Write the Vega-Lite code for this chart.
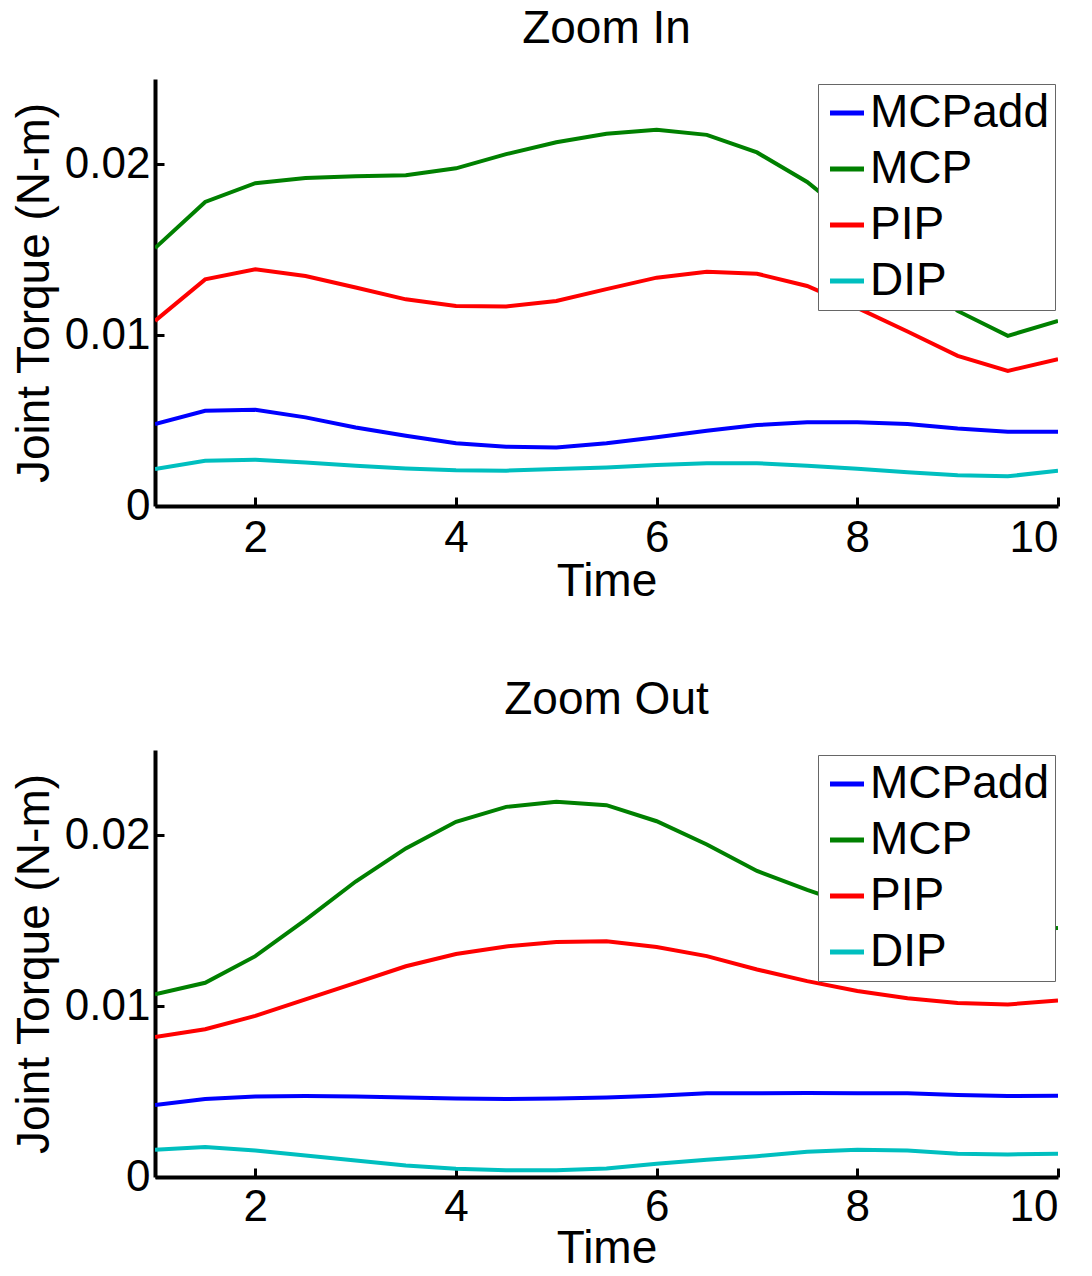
{
"$schema": "https://vega.github.io/schema/vega-lite/v6.json",
"background": "white",
"padding": {"left": 11, "top": 6, "right": 5, "bottom": 0},
"spacing": 73,
"config": {
  "view": {"stroke": null},
  "font": "Liberation Sans",
  "axis": {"domainColor": "black", "domainWidth": 4, "tickColor": "black", "tickWidth": 3, "tickSize": -9, "labelFont": "Liberation Sans", "labelFontSize": 44, "labelColor": "black", "titleFont": "Liberation Sans", "titleFontSize": 46, "titleFontWeight": "normal", "titleColor": "black", "grid": false},
  "axisX": {"titlePadding": -1, "labelPadding": 19},
  "axisY": {"titlePadding": 6, "labelPadding": 14},
  "title": {"font": "Liberation Sans", "fontSize": 46, "fontWeight": "normal", "color": "black", "offset": 26, "anchor": "middle"},
  "legend": {"labelFont": "Liberation Sans", "labelFontSize": 46, "labelColor": "black", "labelLimit": 400, "symbolType": "stroke", "symbolSize": 1156, "symbolStrokeWidth": 5, "labelOffset": 0, "rowPadding": 10, "padding": 6, "strokeColor": "#666666", "fillColor": "white"}
},
"datasets": {
  "zoomIn": [
    {"time":1,"joint":"MCPadd","torque":0.0048},{"time":1.5,"joint":"MCPadd","torque":0.00557},{"time":2,"joint":"MCPadd","torque":0.00563},{"time":2.5,"joint":"MCPadd","torque":0.00519},{"time":3,"joint":"MCPadd","torque":0.0046},{"time":3.5,"joint":"MCPadd","torque":0.00411},{"time":4,"joint":"MCPadd","torque":0.00368},{"time":4.5,"joint":"MCPadd","torque":0.00347},{"time":5,"joint":"MCPadd","torque":0.00343},{"time":5.5,"joint":"MCPadd","torque":0.00368},{"time":6,"joint":"MCPadd","torque":0.00402},{"time":6.5,"joint":"MCPadd","torque":0.0044},{"time":7,"joint":"MCPadd","torque":0.00474},{"time":7.5,"joint":"MCPadd","torque":0.0049},{"time":8,"joint":"MCPadd","torque":0.0049},{"time":8.5,"joint":"MCPadd","torque":0.0048},{"time":9,"joint":"MCPadd","torque":0.00454},{"time":9.5,"joint":"MCPadd","torque":0.00435},{"time":10,"joint":"MCPadd","torque":0.00435},
    {"time":1,"joint":"MCP","torque":0.0151},{"time":1.5,"joint":"MCP","torque":0.0178},{"time":2,"joint":"MCP","torque":0.0189},{"time":2.5,"joint":"MCP","torque":0.0192},{"time":3,"joint":"MCP","torque":0.0193},{"time":3.5,"joint":"MCP","torque":0.01936},{"time":4,"joint":"MCP","torque":0.01977},{"time":4.5,"joint":"MCP","torque":0.0206},{"time":5,"joint":"MCP","torque":0.0213},{"time":5.5,"joint":"MCP","torque":0.0218},{"time":6,"joint":"MCP","torque":0.02203},{"time":6.5,"joint":"MCP","torque":0.02173},{"time":7,"joint":"MCP","torque":0.0207},{"time":7.5,"joint":"MCP","torque":0.01897},{"time":8,"joint":"MCP","torque":0.0166},{"time":8.5,"joint":"MCP","torque":0.014},{"time":9,"joint":"MCP","torque":0.01142},{"time":9.5,"joint":"MCP","torque":0.00996},{"time":10,"joint":"MCP","torque":0.01084},
    {"time":1,"joint":"PIP","torque":0.01084},{"time":1.5,"joint":"PIP","torque":0.01327},{"time":2,"joint":"PIP","torque":0.01386},{"time":2.5,"joint":"PIP","torque":0.01347},{"time":3,"joint":"PIP","torque":0.01279},{"time":3.5,"joint":"PIP","torque":0.0121},{"time":4,"joint":"PIP","torque":0.01171},{"time":4.5,"joint":"PIP","torque":0.01168},{"time":5,"joint":"PIP","torque":0.012},{"time":5.5,"joint":"PIP","torque":0.0127},{"time":6,"joint":"PIP","torque":0.01337},{"time":6.5,"joint":"PIP","torque":0.01372},{"time":7,"joint":"PIP","torque":0.0136},{"time":7.5,"joint":"PIP","torque":0.01288},{"time":8,"joint":"PIP","torque":0.0116},{"time":8.5,"joint":"PIP","torque":0.01022},{"time":9,"joint":"PIP","torque":0.00879},{"time":9.5,"joint":"PIP","torque":0.00791},{"time":10,"joint":"PIP","torque":0.0086},
    {"time":1,"joint":"DIP","torque":0.00216},{"time":1.5,"joint":"DIP","torque":0.00265},{"time":2,"joint":"DIP","torque":0.00271},{"time":2.5,"joint":"DIP","torque":0.00255},{"time":3,"joint":"DIP","torque":0.00236},{"time":3.5,"joint":"DIP","torque":0.0022},{"time":4,"joint":"DIP","torque":0.0021},{"time":4.5,"joint":"DIP","torque":0.00207},{"time":5,"joint":"DIP","torque":0.00216},{"time":5.5,"joint":"DIP","torque":0.00226},{"time":6,"joint":"DIP","torque":0.0024},{"time":6.5,"joint":"DIP","torque":0.00251},{"time":7,"joint":"DIP","torque":0.00251},{"time":7.5,"joint":"DIP","torque":0.00236},{"time":8,"joint":"DIP","torque":0.00218},{"time":8.5,"joint":"DIP","torque":0.00197},{"time":9,"joint":"DIP","torque":0.0018},{"time":9.5,"joint":"DIP","torque":0.00174},{"time":10,"joint":"DIP","torque":0.00207}
  ],
  "zoomOut": [
    {"time":1,"joint":"MCPadd","torque":0.00422},{"time":1.5,"joint":"MCPadd","torque":0.00457},{"time":2,"joint":"MCPadd","torque":0.00472},{"time":2.5,"joint":"MCPadd","torque":0.00474},{"time":3,"joint":"MCPadd","torque":0.00472},{"time":3.5,"joint":"MCPadd","torque":0.00466},{"time":4,"joint":"MCPadd","torque":0.0046},{"time":4.5,"joint":"MCPadd","torque":0.00457},{"time":5,"joint":"MCPadd","torque":0.0046},{"time":5.5,"joint":"MCPadd","torque":0.00466},{"time":6,"joint":"MCPadd","torque":0.00476},{"time":6.5,"joint":"MCPadd","torque":0.0049},{"time":7,"joint":"MCPadd","torque":0.0049},{"time":7.5,"joint":"MCPadd","torque":0.00492},{"time":8,"joint":"MCPadd","torque":0.0049},{"time":8.5,"joint":"MCPadd","torque":0.0049},{"time":9,"joint":"MCPadd","torque":0.0048},{"time":9.5,"joint":"MCPadd","torque":0.00474},{"time":10,"joint":"MCPadd","torque":0.00476},
    {"time":1,"joint":"MCP","torque":0.01069},{"time":1.5,"joint":"MCP","torque":0.01137},{"time":2,"joint":"MCP","torque":0.01293},{"time":2.5,"joint":"MCP","torque":0.01506},{"time":3,"joint":"MCP","torque":0.0173},{"time":3.5,"joint":"MCP","torque":0.01924},{"time":4,"joint":"MCP","torque":0.0208},{"time":4.5,"joint":"MCP","torque":0.02167},{"time":5,"joint":"MCP","torque":0.02197},{"time":5.5,"joint":"MCP","torque":0.02177},{"time":6,"joint":"MCP","torque":0.02083},{"time":6.5,"joint":"MCP","torque":0.01947},{"time":7,"joint":"MCP","torque":0.01792},{"time":7.5,"joint":"MCP","torque":0.01681},{"time":8,"joint":"MCP","torque":0.0158},{"time":8.5,"joint":"MCP","torque":0.0151},{"time":9,"joint":"MCP","torque":0.0147},{"time":9.5,"joint":"MCP","torque":0.0145},{"time":10,"joint":"MCP","torque":0.01458},
    {"time":1,"joint":"PIP","torque":0.0082},{"time":1.5,"joint":"PIP","torque":0.00865},{"time":2,"joint":"PIP","torque":0.00943},{"time":2.5,"joint":"PIP","torque":0.0104},{"time":3,"joint":"PIP","torque":0.01137},{"time":3.5,"joint":"PIP","torque":0.01234},{"time":4,"joint":"PIP","torque":0.01306},{"time":4.5,"joint":"PIP","torque":0.0135},{"time":5,"joint":"PIP","torque":0.01376},{"time":5.5,"joint":"PIP","torque":0.0138},{"time":6,"joint":"PIP","torque":0.01347},{"time":6.5,"joint":"PIP","torque":0.01293},{"time":7,"joint":"PIP","torque":0.01215},{"time":7.5,"joint":"PIP","torque":0.01147},{"time":8,"joint":"PIP","torque":0.01089},{"time":8.5,"joint":"PIP","torque":0.01046},{"time":9,"joint":"PIP","torque":0.01019},{"time":9.5,"joint":"PIP","torque":0.0101},{"time":10,"joint":"PIP","torque":0.01034},
    {"time":1,"joint":"DIP","torque":0.00159},{"time":1.5,"joint":"DIP","torque":0.00175},{"time":2,"joint":"DIP","torque":0.00155},{"time":2.5,"joint":"DIP","torque":0.00126},{"time":3,"joint":"DIP","torque":0.00097},{"time":3.5,"joint":"DIP","torque":0.00068},{"time":4,"joint":"DIP","torque":0.00049},{"time":4.5,"joint":"DIP","torque":0.00039},{"time":5,"joint":"DIP","torque":0.00039},{"time":5.5,"joint":"DIP","torque":0.0005},{"time":6,"joint":"DIP","torque":0.00078},{"time":6.5,"joint":"DIP","torque":0.00101},{"time":7,"joint":"DIP","torque":0.00122},{"time":7.5,"joint":"DIP","torque":0.00148},{"time":8,"joint":"DIP","torque":0.00159},{"time":8.5,"joint":"DIP","torque":0.00155},{"time":9,"joint":"DIP","torque":0.00136},{"time":9.5,"joint":"DIP","torque":0.00132},{"time":10,"joint":"DIP","torque":0.00136}
  ]
},
"resolve": {"legend": {"color": "independent"}},
"vconcat": [
  {
    "title": "Zoom In",
    "width": 903, "height": 427,
    "data": {"name": "zoomIn"},
    "mark": {"type": "line", "strokeWidth": 4, "clip": true},
    "encoding": {
      "x": {"field": "time", "type": "quantitative", "scale": {"domain": [1, 10], "nice": false, "zero": false}, "axis": {"values": [2, 4, 6, 8, 10], "title": "Time"}},
      "y": {"field": "torque", "type": "quantitative", "scale": {"domain": [0, 0.025], "nice": false}, "axis": {"values": [0, 0.01, 0.02], "format": "~g", "title": "Joint Torque (N-m)"}},
      "color": {"field": "joint", "type": "nominal", "sort": ["MCPadd", "MCP", "PIP", "DIP"], "scale": {"domain": ["MCPadd", "MCP", "PIP", "DIP"], "range": ["#0000FF", "#008000", "#FF0000", "#00BFBF"]}, "legend": {"orient": "none", "legendX": 663, "legendY": 5, "title": null}}
    }
  },
  {
    "title": "Zoom Out",
    "width": 903, "height": 427,
    "data": {"name": "zoomOut"},
    "mark": {"type": "line", "strokeWidth": 4, "clip": true},
    "encoding": {
      "x": {"field": "time", "type": "quantitative", "scale": {"domain": [1, 10], "nice": false, "zero": false}, "axis": {"values": [2, 4, 6, 8, 10], "title": "Time", "labelPadding": 17, "titlePadding": -3}},
      "y": {"field": "torque", "type": "quantitative", "scale": {"domain": [0, 0.025], "nice": false}, "axis": {"values": [0, 0.01, 0.02], "format": "~g", "title": "Joint Torque (N-m)"}},
      "color": {"field": "joint", "type": "nominal", "sort": ["MCPadd", "MCP", "PIP", "DIP"], "scale": {"domain": ["MCPadd", "MCP", "PIP", "DIP"], "range": ["#0000FF", "#008000", "#FF0000", "#00BFBF"]}, "legend": {"orient": "none", "legendX": 663, "legendY": 5, "title": null}}
    }
  }
]
}
